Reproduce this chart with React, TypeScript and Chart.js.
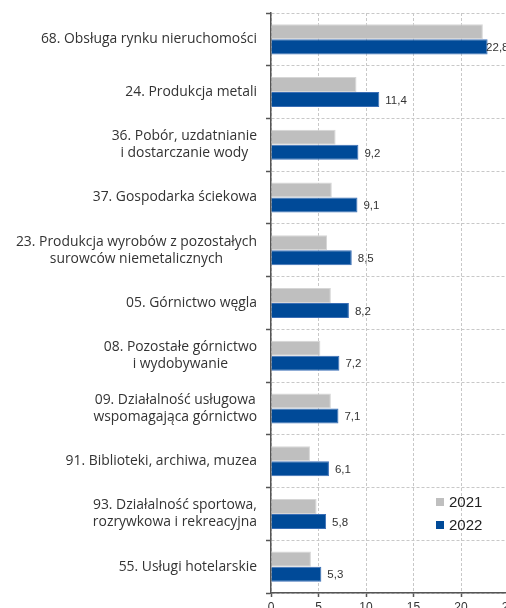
import React, { useEffect, useRef } from 'react';
import { Chart, registerables } from 'chart.js';
Chart.register(...registerables);

const categories: string[][] = [
  ['68. Obsługa rynku nieruchomości'],
  ['24. Produkcja metali'],
  ['36. Pobór, uzdatnianie', 'i dostarczanie wody'],
  ['37. Gospodarka ściekowa'],
  ['23. Produkcja wyrobów z pozostałych', 'surowców niemetalicznych'],
  ['05. Górnictwo węgla'],
  ['08. Pozostałe górnictwo', 'i wydobywanie'],
  ['09. Działalność usługowa', 'wspomagająca górnictwo'],
  ['91. Biblioteki, archiwa, muzea'],
  ['93. Działalność sportowa,', 'rozrywkowa i rekreacyjna'],
  ['55. Usługi hotelarskie'],
];
const values2021 = [22.3, 9.0, 6.8, 6.4, 5.9, 6.3, 5.2, 6.3, 4.1, 4.8, 4.2];
const values2022 = [22.8, 11.4, 9.2, 9.1, 8.5, 8.2, 7.2, 7.1, 6.1, 5.8, 5.3];
const seriesLabels = ['2021', '2022'];
const seriesColors = ['#BFBFBF', '#004A98'];
const seriesBorders = ['#D6D6D6', '#3B6FB6'];
const xMin = 0;
const xMax = 25;
const xStep = 5;

const CAT_FONT = '13.9px "Open Sans"';
const VAL_FONT = '11.5px "Liberation Sans"';
const LEG_FONT = '15px "Liberation Sans"';
const TEXT_COLOR = '#333333';

const categoryLabelPlugin = {
  id: 'categoryLabelPlugin',
  afterDraw(chart: any) {
    const ctx = chart.ctx;
    const yScale = chart.scales.y;
    const right = chart.chartArea.left - 14;
    const lineH = 17;
    ctx.save();
    ctx.font = CAT_FONT;
    ctx.fillStyle = TEXT_COLOR;
    ctx.textBaseline = 'middle';
    ctx.textAlign = 'center';
    categories.forEach((lines, i) => {
      const y = yScale.getPixelForValue(i);
      const maxW = Math.max(...lines.map((l) => ctx.measureText(l).width));
      const cx = right - maxW / 2;
      const y0 = y - ((lines.length - 1) * lineH) / 2;
      lines.forEach((l, j) => ctx.fillText(l, cx, y0 + j * lineH));
    });
    ctx.restore();
  },
};

const valueLabelPlugin = {
  id: 'valueLabelPlugin',
  afterDatasetsDraw(chart: any) {
    const ctx = chart.ctx;
    const meta = chart.getDatasetMeta(1);
    ctx.save();
    ctx.font = VAL_FONT;
    ctx.fillStyle = TEXT_COLOR;
    ctx.textBaseline = 'middle';
    ctx.textAlign = 'left';
    meta.data.forEach((bar: any, i: number) => {
      const txt = values2022[i].toFixed(1).replace('.', ',');
      const w = ctx.measureText(txt).width;
      const x = Math.min(bar.x + 6, chart.chartArea.right - w);
      ctx.fillText(txt, x, bar.y + 1);
    });
    ctx.restore();
  },
};

const legendPlugin = {
  id: 'legendPlugin',
  afterDraw(chart: any) {
    const ctx = chart.ctx;
    const { left, bottom } = chart.chartArea;
    const x = left + 165;
    const yStart = bottom - 91;
    ctx.save();
    ctx.font = LEG_FONT;
    ctx.textBaseline = 'middle';
    ctx.textAlign = 'left';
    seriesLabels.forEach((lab, i) => {
      const y = yStart + i * 23;
      ctx.fillStyle = seriesColors[i];
      ctx.fillRect(x, y - 4, 8, 8);
      ctx.fillStyle = '#222222';
      ctx.fillText(lab, x + 13, y + 1);
    });
    ctx.restore();
  },
};

export default function App() {
  const ref = useRef<HTMLCanvasElement>(null);
  useEffect(() => {
    if (!ref.current) return;
    const chart = new Chart(ref.current, {
      type: 'bar',
      data: {
        labels: categories.map((c) => c.join(' ')),
        datasets: [
          {
            label: seriesLabels[0],
            data: values2021,
            backgroundColor: seriesColors[0],
            borderColor: seriesBorders[0],
            borderWidth: 1,
            categoryPercentage: 0.57,
            barPercentage: 1.0,
          },
          {
            label: seriesLabels[1],
            data: values2022,
            backgroundColor: seriesColors[1],
            borderColor: seriesBorders[1],
            borderWidth: 1,
            categoryPercentage: 0.57,
            barPercentage: 1.0,
          },
        ],
      },
      options: {
        indexAxis: 'y',
        animation: false,
        responsive: false,
        layout: { padding: { top: 13, left: 0, right: 11.5, bottom: 0 } },
        plugins: {
          legend: { display: false },
          tooltip: { enabled: false },
        },
        scales: {
          y: {
            type: 'category',
            afterFit: (scale: any) => {
              scale.width = 271;
            },
            ticks: { display: false },
            grid: {
              offset: true,
              color: '#C8C8C8',
              lineWidth: 1,
              drawTicks: true,
              tickLength: 5,
              tickColor: '#555555',
              tickWidth: 1.5,
              tickBorderDash: [],
            },
            border: { display: true, color: '#555555', width: 1.5, dash: [3, 2] },
          },
          x: {
            type: 'linear',
            min: xMin,
            max: xMax,
            afterFit: (scale: any) => {
              scale.height = 27;
            },
            ticks: {
              stepSize: xStep,
              color: TEXT_COLOR,
              font: { family: 'Liberation Sans', size: 12 },
              padding: 3,
              maxRotation: 0,
              autoSkip: false,
            },
            grid: {
              color: '#C8C8C8',
              lineWidth: 1,
              drawTicks: true,
              tickLength: 4,
              tickColor: '#555555',
              tickWidth: 1.5,
              tickBorderDash: [],
            },
            border: { display: true, color: '#555555', width: 1.5, dash: [3, 2] },
          },
        },
      },
      plugins: [categoryLabelPlugin, valueLabelPlugin, legendPlugin],
    } as any);
    return () => chart.destroy();
  }, []);
  return (
    <div
      style={{
        position: 'fixed',
        left: 0,
        top: 0,
        width: 506,
        height: 608,
        overflow: 'hidden',
        background: '#ffffff',
      }}
    >
      <canvas ref={ref} width={520} height={620} style={{ display: 'block', width: 520, height: 620 }} />
    </div>
  );
}
